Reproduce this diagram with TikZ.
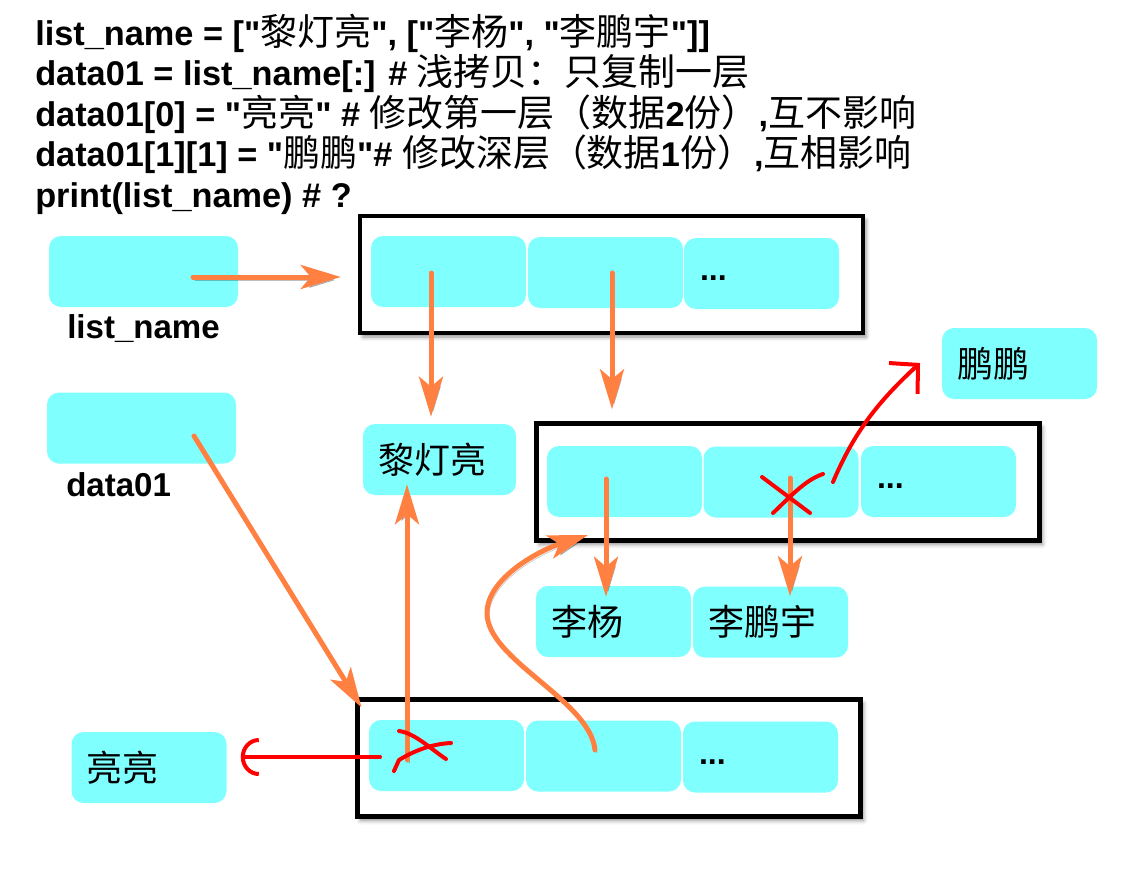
\documentclass[tikz,border=0pt]{standalone}
\usepackage{fontspec}
\setmainfont{Liberation Sans}
\newfontfamily\codefont{Liberation Sans}
\newfontfamily\cjk{Noto Sans CJK SC}
\usetikzlibrary{arrows.meta,shapes,shadows.blur}

\newdimen\unitpx \unitpx=0.025cm
\newcommand\zh[1]{{\cjk\mdseries\fontsize{26.3}{29}\selectfont #1}}
\definecolor{cellcyan}{RGB}{128,255,255}
\definecolor{ptrorange}{RGB}{255,128,64}

\begin{document}
\begin{tikzpicture}[x=0.025cm,y=-0.025cm,line cap=round]
  \tikzstyle{title}=[anchor=base west,inner sep=0pt,font=\codefont\bfseries\fontsize{24.4}{29}\selectfont]
  \tikzstyle{varname}=[anchor=base west,inner sep=0pt,font=\bfseries\fontsize{23.5}{26}\selectfont]
  \tikzstyle{frame}=[rectangle,draw=black,line width=4.5\unitpx,fill=white,minimum width=503\unitpx,
                     minimum height=117\unitpx,
                     blur shadow={shadow xshift=3\unitpx,shadow yshift=-4\unitpx,shadow blur radius=4\unitpx,shadow opacity=45}]
  \tikzstyle{cell}=[rectangle,rounded corners=12\unitpx,fill=cellcyan,minimum width=155\unitpx,minimum height=71\unitpx,
                    inner xsep=16\unitpx,inner ysep=0pt,text width=123\unitpx,align=left,
                    font=\bfseries\fontsize{22.8}{26}\selectfont]
  \tikzstyle{var}=[cell,minimum width=189\unitpx,text width=157\unitpx]
  \tikzstyle{value}=[cell,inner xsep=15\unitpx,text width=125\unitpx,font=\cjk\fontsize{25.6}{28}\selectfont]
  \tikzstyle{ptr}=[draw=ptrorange,line width=5\unitpx,-{Stealth[length=1cm,width=0.6cm,inset=0.25cm]},
                   preaction={draw=black,opacity=.25,transform canvas={shift={(2\unitpx,-3\unitpx)}}}]
  \tikzstyle{cut}=[draw=red,line width=4\unitpx]

  \useasboundingbox (0,0) rectangle (1139,894);

  % code lines
  \node[title] (T-1) at (35,45) {list\_name = ["\zh{黎灯亮}", ["\zh{李杨}", "\zh{李鹏宇}"]]};
  \node[title] (T-2) at (35,85.5) {data01 = list\_name[:] \# \zh{浅拷贝：只复制一层}};
  \node[title] (T-3) at (35,126) {data01[0] = "\zh{亮亮}" \# \zh{修改第一层（数据}2\zh{份）},\zh{互不影响}};
  \node[title] (T-4) at (35,166.5) {data01[1][1] = "\zh{鹏鹏}"\# \zh{修改深层（数据}1\zh{份）},\zh{互相影响}};
  \node[title] (T-5) at (35,207) {print(list\_name) \# ?};

  % variables
  \node[var] (V-list) at (143.5,271.5) {};
  \node[var] (V-data) at (141.5,428) {};
  \node[varname] (L-list) at (67,338) {list\_name};
  \node[varname] (L-data) at (66,496) {data01};

  % list objects
  \node[frame] (F-A) at (611.5,274.5) {};
  \node[frame] (F-B) at (788,482) {};
  \node[frame] (F-C) at (609,758) {};

  \foreach \i/\x/\y in {1/448.5/271.5, 2/605.5/272.5, 3/761.5/273.5}
    \node[cell] (A-\i) at (\x,\y) {\ifnum\i=3 \strut...\fi};
  \foreach \i/\x/\y in {1/624.5/481.5, 2/781/482, 3/938.5/481.5}
    \node[cell] (B-\i) at (\x,\y) {\ifnum\i=3 \strut...\fi};
  \foreach \i/\x/\y in {1/446.5/755.5, 2/603.5/756, 3/760.5/757}
    \node[cell] (C-\i) at (\x,\y) {\ifnum\i=3 \strut...\fi};

  % string objects
  \node[value,minimum width=153\unitpx,text width=123\unitpx] (S-li) at (439.5,459.5) {黎灯亮};
  \node[value] (S-pp) at (1019.5,363.5) {鹏鹏};
  \node[value] (S-ly) at (613.5,621.5) {李杨};
  \node[value] (S-lpy) at (770.5,622) {李鹏宇};
  \node[value] (S-ll) at (149,767.5) {亮亮};

  % pointer origins
  \coordinate (lp) at (193,277);
  \coordinate (dp) at (194,436);
  \coordinate (a1) at (431,273);
  \coordinate (a2) at (612,273);
  \coordinate (b1) at (606,479);
  \coordinate (b2) at (790,478);
  \coordinate (c1) at (407,760);
  \coordinate (c2) at (595,750);
  \coordinate (b-in) at (588,535);

  \draw[ptr,shorten >=17\unitpx] (lp) -- (F-A.west |- lp);
  \draw[ptr,shorten >=-12\unitpx] (dp) -- (F-C.north west);
  \draw[ptr,shorten >=7\unitpx] (a1) -- (a1 |- S-li.north);
  \draw[ptr,shorten >=12\unitpx] (a2) -- (a2 |- F-B.north);
  \draw[ptr,shorten >=-11\unitpx] (c1) -- (c1 |- S-li.south);
  \draw[ptr,shorten >=-11\unitpx] (b1) -- (b1 |- S-ly.north);
  \draw[ptr,shorten >=-10\unitpx] (b2) -- (b2 |- S-lpy.north);
  \draw[ptr] (c2) .. controls (590,700) and (487,660) .. (487,613)
                  .. controls (487,578) and (540,550) .. (b-in);

  % red marks
  \coordinate (r-x) at (833,482);
  \coordinate (pp-in) at (920,363);
  \coordinate (r-cut) at (380,757);
  \draw[cut] (762,477) -- (810,513);
  \draw[cut] (773,513) .. controls (790,497) and (805,480) .. (823,474);
  \draw[cut,-{Straight Barb[length=0.5cm,width=1.05cm]}] (r-x) .. controls (855,430) and (880,400) .. (pp-in);
  \draw[cut] (399,731) .. controls (415,733) and (432,750) .. (446,759);
  \draw[cut] (394,771) -- (399,760) .. controls (412,752) and (430,744) .. (451,743);
  \draw[cut,-{Arc Barb[length=0.45cm,width=0.95cm]},shorten >=14\unitpx] (r-cut) -- (S-ll.east |- r-cut);
\end{tikzpicture}
\end{document}
